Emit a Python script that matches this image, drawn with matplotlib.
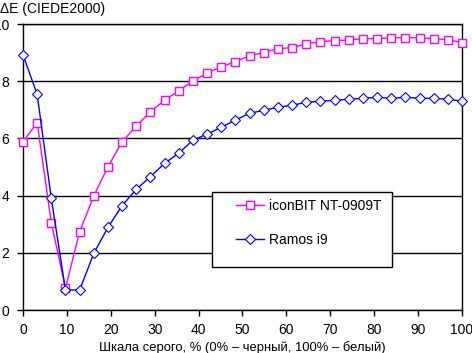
import matplotlib
matplotlib.use("Agg")
import matplotlib.pyplot as plt
from matplotlib.patches import Rectangle
import numpy as np

plt.rcParams['font.family'] = ['Liberation Sans', 'DejaVu Sans']

n_points = 32
gray = np.arange(n_points) * 100.0 / (n_points - 1)

iconbit = [5.88, 6.55, 3.05, 0.76, 2.74, 3.99, 5.01, 5.88, 6.43, 6.93, 7.34, 7.66,
           8.01, 8.28, 8.51, 8.68, 8.89, 9.00, 9.14, 9.17, 9.31, 9.38, 9.42, 9.44,
           9.49, 9.49, 9.52, 9.52, 9.52, 9.49, 9.45, 9.35]
ramos = [8.92, 7.54, 3.90, 0.70, 0.70, 1.98, 2.89, 3.65, 4.22, 4.66, 5.13, 5.48,
         5.94, 6.15, 6.39, 6.64, 6.88, 6.98, 7.09, 7.16, 7.26, 7.30, 7.33, 7.37,
         7.40, 7.44, 7.40, 7.44, 7.40, 7.40, 7.37, 7.30]

series_names = ["iconBIT NT-0909T", "Ramos i9"]
xticks = [0, 10, 20, 30, 40, 50, 60, 70, 80, 90, 100]
yticks = [0, 2, 4, 6, 8, 10]
title = "ΔE (CIEDE2000)"
xlabel = "Шкала серого, % (0% – черный, 100% – белый)"

W, H = 472, 353
fig = plt.figure(figsize=(W/100, H/100), dpi=100)
ax = fig.add_axes([23/W, 1-310/H, (462-23)/W, (310-24)/H])

ax.plot(gray, iconbit, color='#FF00FF', lw=1.0, marker='s', markersize=5.5,
        markerfacecolor='white', markeredgecolor='#FF00FF', markeredgewidth=1.0,
        label=series_names[0], clip_on=False, zorder=3)
ax.plot(gray, ramos, color='#0000FF', lw=1.0, marker='D', markersize=5.0,
        markerfacecolor='white', markeredgecolor='#0000FF', markeredgewidth=0.8,
        label=series_names[1], clip_on=False, zorder=4)

ax.set_xlim(0, 100)
ax.set_ylim(0, 10)
ax.set_xticks(xticks)
ax.set_yticks(yticks)
ax.yaxis.grid(True, color='black', lw=1.0)
ax.set_axisbelow(True)
for s in ax.spines.values():
    s.set_color('black')
    s.set_linewidth(1.0)
ax.tick_params(axis='both', direction='out', length=4, width=1.0, labelsize=10, color='black')
ax.tick_params(axis='x', pad=5.5)
ax.tick_params(axis='y', pad=6)

ax.set_xlabel(xlabel, fontsize=9.4, labelpad=3)
fig.text(0.0, 1-9/H, title, fontsize=10, ha='left', va='center')

# legend box
fig.patches.append(Rectangle((212/W, 1-267/H), (392-212)/W, (267-192)/H,
                             transform=fig.transFigure, facecolor='white',
                             edgecolor='black', lw=1.0, zorder=5))
leg = fig.legend(loc='upper left', bbox_to_anchor=(236/W, 1-199/H),
                 frameon=False, fontsize=10, handlelength=2.0, borderpad=0,
                 labelspacing=1.45, handletextpad=0.35, borderaxespad=0)
leg.set_zorder(6)

fig.savefig("out.png", dpi=100)
